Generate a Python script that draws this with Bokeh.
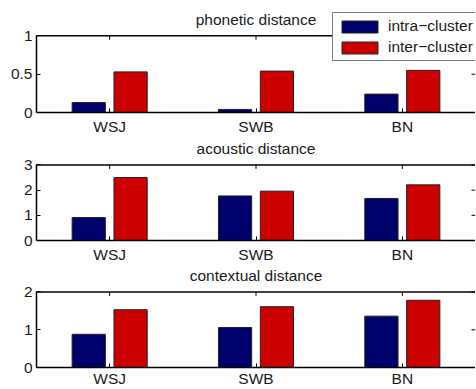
import numpy as np
from bokeh.plotting import figure
from bokeh.models import (FixedTicker, Legend, LegendItem, ColumnDataSource, Label)
from bokeh.layouts import column
from bokeh.embed import file_html
from bokeh.resources import INLINE

# ---- data ----
datasets = ["WSJ", "SWB", "BN"]
series_names = ["intra\u2212cluster", "inter\u2212cluster"]

titles = ["phonetic distance", "acoustic distance", "contextual distance"]
phonetic_intra = [0.13, 0.04, 0.24]
phonetic_inter = [0.53, 0.54, 0.55]
acoustic_intra = [0.91, 1.77, 1.67]
acoustic_inter = [2.50, 1.96, 2.21]
contextual_intra = [0.88, 1.06, 1.36]
contextual_inter = [1.53, 1.61, 1.78]
y_max = [1, 3, 2]
y_ticks = [[0, 0.5, 1], [0, 1, 2, 3], [0, 1, 2]]
y_tick_labels = [["0", "0.5", "1"], ["0", "1", "2", "3"], ["0", "1", "2"]]

BLUE = "#00006C"
RED = "#CC0000"
FONT = "Liberation Sans"
FS = "15.5px"
TXT = "#1a1a1a"
W = 475
LEFT = 36
FRAME_W = W - LEFT
BAR_W = 0.227
OFF = 0.143
TICK_PX = 4

intra_all = [phonetic_intra, acoustic_intra, contextual_intra]
inter_all = [phonetic_inter, acoustic_inter, contextual_inter]
# (space above data area inside frame, data-area height, bottom border, label standoff)
layout_tb = [(36, 78, 23, 5), (28, 77, 23, 5), (27, 77, 20, 2)]


def make_panel(i):
    pad, dh, bot, xstand = layout_tb[i]
    ymax = y_max[i]
    ytop = ymax * (dh + pad) / dh
    xs = np.arange(1, len(datasets) + 1)
    x_lo, x_hi = 0.5, len(datasets) + 0.5
    p = figure(x_range=(x_lo, x_hi), y_range=(0, ytop),
               width=W, height=pad + dh + bot, output_backend="svg",
               toolbar_location=None, min_border_left=LEFT, min_border_right=0,
               min_border_top=0, min_border_bottom=bot)
    p.outline_line_color = None
    p.xgrid.visible = False
    p.ygrid.visible = False
    p.background_fill_color = "white"
    p.border_fill_color = "white"

    src = ColumnDataSource(dict(x_intra=xs - OFF, x_inter=xs + OFF,
                                intra=intra_all[i], inter=inter_all[i]))
    r1 = p.vbar(x="x_intra", top="intra", width=BAR_W, source=src,
                fill_color=BLUE, line_color="#222222", line_width=1)
    r2 = p.vbar(x="x_inter", top="inter", width=BAR_W, source=src,
                fill_color=RED, line_color="#222222", line_width=1)

    # box top edge and inward tick marks (top and right)
    ty = TICK_PX * ymax / dh
    tx = TICK_PX * (x_hi - x_lo) / FRAME_W
    p.segment(x0=[x_lo], y0=[ymax], x1=[x_hi], y1=[ymax], line_color="black", line_width=1.5)
    p.segment(x0=xs, y0=[ymax] * len(xs), x1=xs, y1=[ymax - ty] * len(xs),
              line_color="black", line_width=1)
    yt = np.array(y_ticks[i], dtype=float)
    p.segment(x0=[x_hi - tx] * len(yt), y0=yt, x1=[x_hi] * len(yt), y1=yt,
              line_color="black", line_width=1)

    overrides = {t: l for t, l in zip(y_ticks[i], y_tick_labels[i])}
    for ax in p.yaxis:
        ax.ticker = FixedTicker(ticks=y_ticks[i])
        ax.bounds = (0, ymax)
        ax.major_label_overrides = overrides
        ax.major_tick_in = TICK_PX
        ax.major_tick_out = 0
        ax.minor_tick_line_color = None
        ax.axis_line_width = 1.5
        ax.major_label_text_font = FONT
        ax.major_label_text_font_size = FS
        ax.major_label_text_color = TXT
        ax.major_label_standoff = 4
    for ax in p.xaxis:
        ax.ticker = FixedTicker(ticks=list(xs))
        ax.major_label_overrides = {int(x): d for x, d in zip(xs, datasets)}
        ax.major_tick_in = TICK_PX
        ax.major_tick_out = 0
        ax.minor_tick_line_color = None
        ax.axis_line_width = 1.5
        ax.major_label_text_font = FONT
        ax.major_label_text_font_size = FS
        ax.major_label_text_color = TXT
        ax.major_label_standoff = xstand

    p.add_layout(Label(x=(x_lo + x_hi) / 2, y=ymax + 17 * ymax / dh, text=titles[i],
                       text_align="center", text_baseline="alphabetic",
                       text_font=FONT, text_font_size=FS, text_color=TXT))

    if i == 0:
        leg = Legend(items=[LegendItem(label=series_names[0], renderers=[r1]),
                            LegendItem(label=series_names[1], renderers=[r2])],
                     location=(296, 51), glyph_width=45, glyph_height=15,
                     label_height=15, label_standoff=6, spacing=3, padding=4,
                     margin=0, border_line_color="black", border_line_width=1,
                     background_fill_alpha=1, label_text_font=FONT,
                     label_text_font_size=FS, label_text_color=TXT)
        p.add_layout(leg)
    return p


panels = [make_panel(i) for i in range(3)]
page = column(*panels, spacing=0)
open("out.html", "w").write(file_html(page, INLINE))
